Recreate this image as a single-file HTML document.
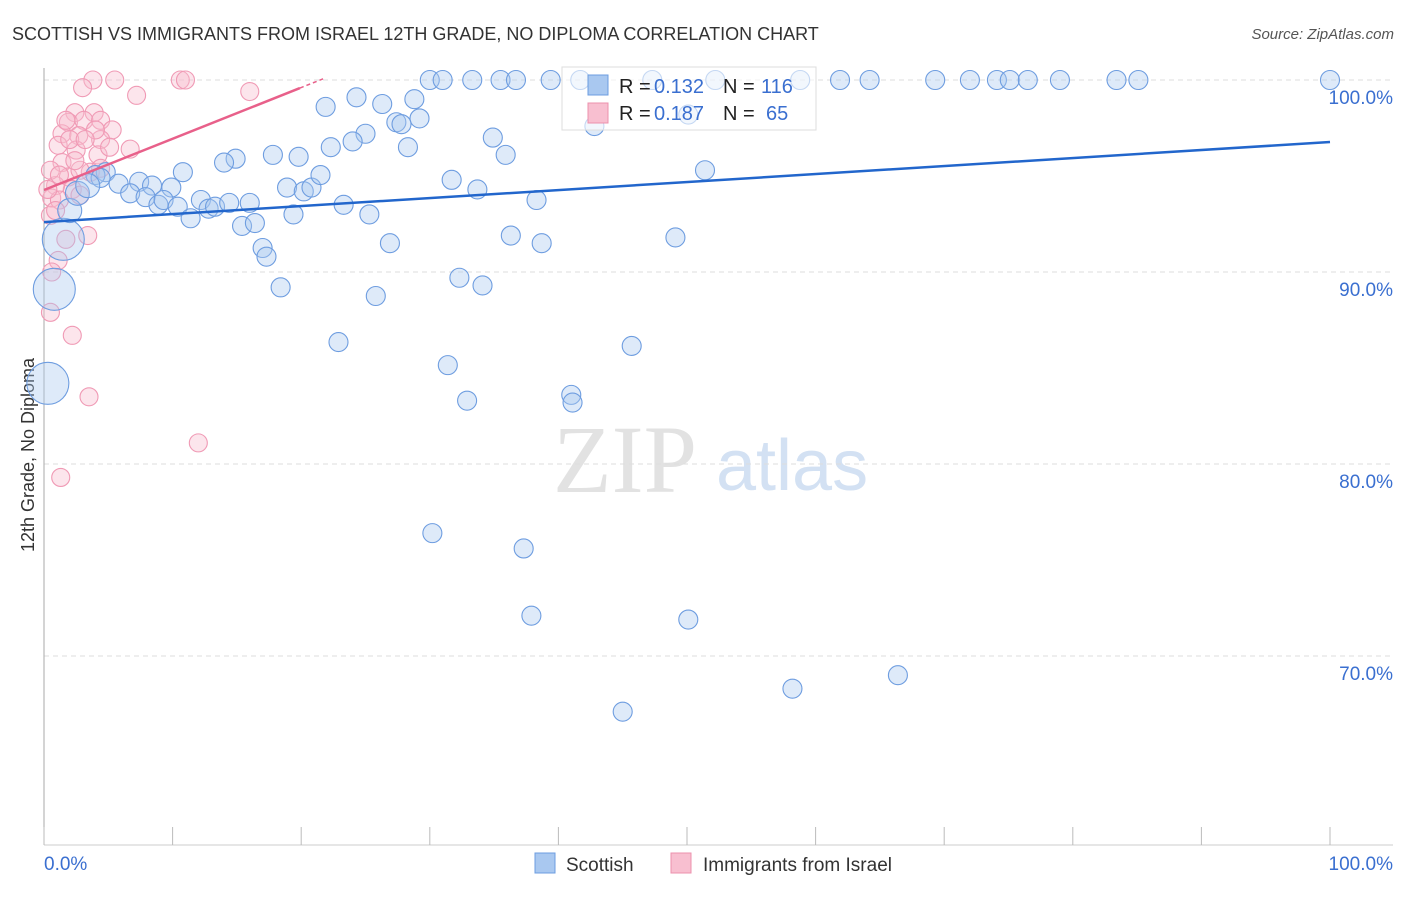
<!DOCTYPE html>
<html><head><meta charset="utf-8"><style>
body{margin:0;background:#fff;font-family:"Liberation Sans",sans-serif;}
svg text{font-family:"Liberation Sans",sans-serif;}
</style></head><body>
<svg id="chart" width="1406" height="892" viewBox="0 0 1406 892" xmlns="http://www.w3.org/2000/svg">
<text x="12" y="40" font-size="18" fill="#333">SCOTTISH VS IMMIGRANTS FROM ISRAEL 12TH GRADE, NO DIPLOMA CORRELATION CHART</text>
<text x="1394" y="39" font-size="15" fill="#555" font-style="italic" text-anchor="end">Source: ZipAtlas.com</text>
<text x="553" y="492" font-size="96" fill="#e2e2e2" font-family="Liberation Serif" style="font-family:'Liberation Serif',serif">ZIP</text>
<text x="716" y="490" font-size="72" fill="#d3e1f3">atlas</text>
<text transform="translate(34,455) rotate(-90)" font-size="18" fill="#333" text-anchor="middle">12th Grade, No Diploma</text>
<g id="grid"></g>
<g id="pts"></g>
<g id="lines"></g>
<g>
<rect x="562" y="67" width="254" height="63" fill="#fff" fill-opacity="0.6" stroke="#ddd"/>
<rect x="588" y="75" width="20" height="20" fill="#a9c8f0" stroke="#6c9de0"/>
<text x="619" y="93" font-size="20" fill="#222">R =</text>
<text x="654" y="93" font-size="20" fill="#3a6fd0">0.132</text>
<text x="723" y="93" font-size="20" fill="#222">N =</text>
<text x="761" y="93" font-size="20" fill="#3a6fd0">116</text>
<rect x="588" y="103" width="20" height="20" fill="#f8bfd0" stroke="#ec90ad"/>
<text x="619" y="120" font-size="20" fill="#222">R =</text>
<text x="654" y="120" font-size="20" fill="#3a6fd0">0.187</text>
<text x="723" y="120" font-size="20" fill="#222">N =</text>
<text x="766" y="120" font-size="20" fill="#3a6fd0">65</text>
</g>
<g>
<rect x="535" y="853" width="20" height="20" fill="#a9c8f0" stroke="#6c9de0"/>
<text x="566" y="871" font-size="19" fill="#333">Scottish</text>
<rect x="671" y="853" width="20" height="20" fill="#f8bfd0" stroke="#ec90ad"/>
<text x="703" y="871" font-size="19" fill="#333">Immigrants from Israel</text>
</g>
</svg>
<script>
const yTicks=[100,90,80,70];
const xTickVals=[0,10,20,30,40,50,60,70,80,90,100];
const blueX=[30.0,31.0,33.3,35.5,36.7,39.4,41.7,47.3,52.2,58.8,61.9,64.2,69.3,72.0,74.1,75.1,76.5,79.0,83.4,85.1,100,
21.9,24.3,26.3,28.8,29.2,27.4,27.8,25.0,24.0,22.3,28.3,34.9,35.9,42.8,50.1,17.8,19.8,14.9,14.0,10.8,4.8,4.0,4.4,5.8,7.4,8.4,9.9,6.7,7.9,8.9,9.3,10.4,11.4,12.2,12.8,13.3,14.4,16.0,15.4,16.4,18.9,20.2,20.8,21.5,19.4,23.3,25.3,31.7,33.7,38.3,51.4,17.0,17.3,26.9,36.3,38.7,49.1,18.4,25.8,32.3,34.1,22.9,31.4,45.7,32.9,41.0,41.1,30.2,37.3,37.9,50.1,58.2,66.4,45.0,
1.5,0.8,0.3,2.0,2.6,3.4];
const blueY=[100,100,100,100,100,100,100,100,100,100,100,100,100,100,100,100,100,100,100,100,100,
98.6,99.1,98.75,99.0,98.0,97.8,97.7,97.2,96.8,96.5,96.5,97.0,96.1,97.6,98.2,96.1,96.0,95.9,95.7,95.2,95.2,95.05,94.9,94.6,94.7,94.5,94.4,94.1,93.9,93.5,93.75,93.4,92.8,93.75,93.3,93.4,93.6,93.6,92.4,92.55,94.4,94.2,94.4,95.05,93.0,93.5,93.0,94.8,94.3,93.75,95.3,91.25,90.8,91.5,91.9,91.5,91.8,89.2,88.75,89.7,89.3,86.35,85.15,86.15,83.3,83.6,83.2,76.4,75.6,72.1,71.9,68.3,69.0,67.1,
91.7,89.1,84.2,93.2,94.1,94.5];
const pinkX=[3.8,5.5,10.6,11.0,3.0,7.2,16.0,2.4,3.9,1.9,3.1,4.4,5.3,1.4,2.7,4.4,6.7,4.2,2.5,1.1,1.4,4.4,1.9,2.2,0.9,0.6,1.2,2.8,0.5,0.9,1.7,3.4,1.1,0.6,0.5,2.2,3.5,12.0,1.3,3.6,0.3,0.5,2.8,1.7,4.0,2.0,3.2,1.2,5.1,2.4];
const pinkY=[100,100,100,100,99.6,99.2,99.4,98.3,98.3,97.8,97.9,97.9,97.4,97.2,97.1,96.9,96.4,96.1,96.35,96.6,95.7,95.4,94.95,94.3,94.5,93.85,93.75,94.0,92.95,93.2,91.7,91.9,90.6,90.0,87.9,86.7,83.5,81.1,79.3,95.2,94.3,95.3,95.3,97.9,97.4,96.9,96.9,95.05,96.5,95.8];
const blueLine=[92.6,96.77];
const pinkLine=[94.27,99.58,19.9,21.7];
const NS='http://www.w3.org/2000/svg';
const sx=v=>44+v*12.86, sy=v=>80+(100-v)*19.2;
function mk(t,a,p){const e=document.createElementNS(NS,t);for(const k in a)e.setAttribute(k,a[k]);p.appendChild(e);return e;}
const grid=document.getElementById('grid');
yTicks.forEach(v=>{
 const l=mk('line',{x1:44,x2:1393,y1:sy(v),y2:sy(v),stroke:'#ddd','stroke-dasharray':'5,4'},grid);
 
 
 const t=mk('text',{x:1393,y:sy(v)+24,'font-size':19,fill:'#3a6fd0','text-anchor':'end'},grid);t.textContent=v.toFixed(1)+'%';
 
 
});
mk('line',{x1:44,x2:44,y1:68,y2:845,stroke:'#aaa'},grid);
mk('line',{x1:44,x2:1393,y1:845,y2:845,stroke:'#ccc'},grid);
xTickVals.forEach(v=>{const l=mk('line',{x1:sx(v),x2:sx(v),y1:827,y2:845,stroke:'#bbb'},grid);
 
 });
[[0,'0.0%','start',44],[100,'100.0%','end',1393]].forEach(a=>{const t=mk('text',{x:a[3],y:870,'font-size':19,fill:'#3a6fd0','text-anchor':a[2]},grid);t.textContent=a[1];
 
 });
const pts=document.getElementById('pts');
pinkX.forEach((x,i)=>{const c=mk('circle',{cx:sx(x),cy:sy(pinkY[i]),r:9,fill:'#f8bfd0','fill-opacity':0.4,stroke:'#f09ab5','stroke-width':1.1},pts);
 
 });
blueX.forEach((x,i)=>{const n=blueX.length;const r=i>=n-3?12:(i>=n-6?21:9.5);
 const c=mk('circle',{cx:sx(x),cy:sy(blueY[i]),r:r,fill:'#a9c8f0','fill-opacity':0.38,stroke:'#6e9de0','stroke-width':1.1},pts);
 
 });
const lines=document.getElementById('lines');
const bl=mk('line',{x1:sx(0),y1:sy(blueLine[0]),x2:sx(100),y2:sy(blueLine[1]),stroke:'#2266cc','stroke-width':2.5},lines);


const slope=(pinkLine[1]-pinkLine[0])/pinkLine[2];
const pl=mk('line',{x1:sx(0),y1:sy(pinkLine[0]),x2:sx(pinkLine[2]),y2:sy(pinkLine[1]),stroke:'#e8608a','stroke-width':2.5},lines);


const pd=mk('line',{x1:sx(pinkLine[2]),y1:sy(pinkLine[1]),x2:sx(pinkLine[3]),y2:sy(pinkLine[0]+slope*pinkLine[3]),stroke:'#e8608a','stroke-width':1.5,'stroke-dasharray':'4,3'},lines);


</script>
</body></html>
